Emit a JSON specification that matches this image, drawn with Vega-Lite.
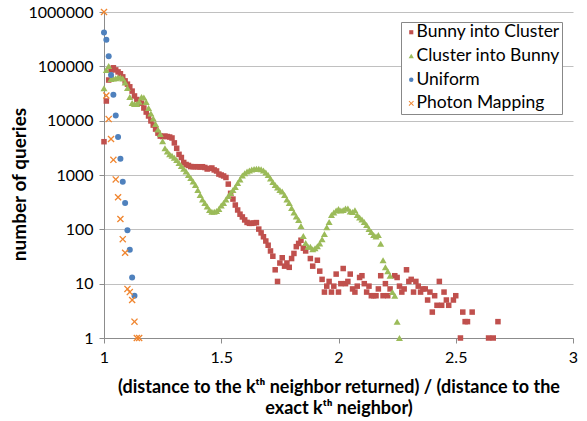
{
  "$schema": "https://vega.github.io/schema/vega-lite/v6.json",
  "width": 469,
  "height": 326,
  "autosize": "none",
  "padding": {"left": 104, "top": 12, "right": 14, "bottom": 83},
  "background": "white",
  "config": {"view": {"stroke": null}, "font": "Lato"},
  "data": {"values": [
    {"s":"Bunny into Cluster","x":1.00,"y":4100},{"s":"Bunny into Cluster","x":1.01,"y":23000},{"s":"Bunny into Cluster","x":1.02,"y":56000},{"s":"Bunny into Cluster","x":1.03,"y":86000},{"s":"Bunny into Cluster","x":1.04,"y":94000},{"s":"Bunny into Cluster","x":1.05,"y":86000},{"s":"Bunny into Cluster","x":1.06,"y":79000},{"s":"Bunny into Cluster","x":1.07,"y":73000},{"s":"Bunny into Cluster","x":1.08,"y":64000},{"s":"Bunny into Cluster","x":1.09,"y":54000},
    {"s":"Bunny into Cluster","x":1.10,"y":47000},{"s":"Bunny into Cluster","x":1.11,"y":42000},{"s":"Bunny into Cluster","x":1.12,"y":35000},{"s":"Bunny into Cluster","x":1.13,"y":28500},{"s":"Bunny into Cluster","x":1.14,"y":24500},{"s":"Bunny into Cluster","x":1.15,"y":22500},{"s":"Bunny into Cluster","x":1.16,"y":21000},{"s":"Bunny into Cluster","x":1.17,"y":17100},{"s":"Bunny into Cluster","x":1.18,"y":14400},{"s":"Bunny into Cluster","x":1.19,"y":12200},
    {"s":"Bunny into Cluster","x":1.20,"y":9900},{"s":"Bunny into Cluster","x":1.21,"y":8300},{"s":"Bunny into Cluster","x":1.22,"y":7000},{"s":"Bunny into Cluster","x":1.23,"y":5900},{"s":"Bunny into Cluster","x":1.24,"y":5200},{"s":"Bunny into Cluster","x":1.25,"y":5100},{"s":"Bunny into Cluster","x":1.26,"y":5200},{"s":"Bunny into Cluster","x":1.27,"y":5100},{"s":"Bunny into Cluster","x":1.28,"y":5000},{"s":"Bunny into Cluster","x":1.29,"y":4800},
    {"s":"Bunny into Cluster","x":1.30,"y":3900},{"s":"Bunny into Cluster","x":1.31,"y":3100},{"s":"Bunny into Cluster","x":1.32,"y":2400},{"s":"Bunny into Cluster","x":1.33,"y":2100},{"s":"Bunny into Cluster","x":1.34,"y":1700},{"s":"Bunny into Cluster","x":1.35,"y":1560},{"s":"Bunny into Cluster","x":1.36,"y":1500},{"s":"Bunny into Cluster","x":1.37,"y":1430},{"s":"Bunny into Cluster","x":1.38,"y":1420},{"s":"Bunny into Cluster","x":1.39,"y":1420},
    {"s":"Bunny into Cluster","x":1.40,"y":1420},{"s":"Bunny into Cluster","x":1.41,"y":1400},{"s":"Bunny into Cluster","x":1.42,"y":1420},{"s":"Bunny into Cluster","x":1.43,"y":1375},{"s":"Bunny into Cluster","x":1.44,"y":1290},{"s":"Bunny into Cluster","x":1.45,"y":1320},{"s":"Bunny into Cluster","x":1.46,"y":1345},{"s":"Bunny into Cluster","x":1.47,"y":1240},{"s":"Bunny into Cluster","x":1.48,"y":1185},{"s":"Bunny into Cluster","x":1.49,"y":1040},
    {"s":"Bunny into Cluster","x":1.50,"y":1000},{"s":"Bunny into Cluster","x":1.51,"y":960},{"s":"Bunny into Cluster","x":1.52,"y":900},{"s":"Bunny into Cluster","x":1.53,"y":680},{"s":"Bunny into Cluster","x":1.54,"y":460},{"s":"Bunny into Cluster","x":1.55,"y":360},{"s":"Bunny into Cluster","x":1.56,"y":280},{"s":"Bunny into Cluster","x":1.57,"y":227},{"s":"Bunny into Cluster","x":1.58,"y":190},{"s":"Bunny into Cluster","x":1.59,"y":169},
    {"s":"Bunny into Cluster","x":1.60,"y":149},{"s":"Bunny into Cluster","x":1.61,"y":134},{"s":"Bunny into Cluster","x":1.62,"y":129},{"s":"Bunny into Cluster","x":1.63,"y":129},{"s":"Bunny into Cluster","x":1.64,"y":131},{"s":"Bunny into Cluster","x":1.65,"y":133},{"s":"Bunny into Cluster","x":1.66,"y":101},{"s":"Bunny into Cluster","x":1.67,"y":86},{"s":"Bunny into Cluster","x":1.68,"y":73},{"s":"Bunny into Cluster","x":1.69,"y":61},
    {"s":"Bunny into Cluster","x":1.70,"y":51},{"s":"Bunny into Cluster","x":1.71,"y":40},{"s":"Bunny into Cluster","x":1.72,"y":32},{"s":"Bunny into Cluster","x":1.73,"y":18},{"s":"Bunny into Cluster","x":1.74,"y":11},{"s":"Bunny into Cluster","x":1.75,"y":24},{"s":"Bunny into Cluster","x":1.76,"y":30},{"s":"Bunny into Cluster","x":1.77,"y":21},{"s":"Bunny into Cluster","x":1.78,"y":24},{"s":"Bunny into Cluster","x":1.79,"y":20},
    {"s":"Bunny into Cluster","x":1.80,"y":29},{"s":"Bunny into Cluster","x":1.81,"y":36},{"s":"Bunny into Cluster","x":1.82,"y":48},{"s":"Bunny into Cluster","x":1.83,"y":55},{"s":"Bunny into Cluster","x":1.84,"y":63},{"s":"Bunny into Cluster","x":1.85,"y":45},{"s":"Bunny into Cluster","x":1.86,"y":40},{"s":"Bunny into Cluster","x":1.88,"y":29},{"s":"Bunny into Cluster","x":1.89,"y":21},
    {"s":"Bunny into Cluster","x":1.91,"y":27},{"s":"Bunny into Cluster","x":1.92,"y":17},{"s":"Bunny into Cluster","x":1.93,"y":12},{"s":"Bunny into Cluster","x":1.94,"y":7},{"s":"Bunny into Cluster","x":1.95,"y":9},{"s":"Bunny into Cluster","x":1.96,"y":11},{"s":"Bunny into Cluster","x":1.97,"y":7},{"s":"Bunny into Cluster","x":1.98,"y":9},{"s":"Bunny into Cluster","x":1.99,"y":15},
    {"s":"Bunny into Cluster","x":2.00,"y":7},{"s":"Bunny into Cluster","x":2.01,"y":10},{"s":"Bunny into Cluster","x":2.02,"y":19},{"s":"Bunny into Cluster","x":2.03,"y":10},{"s":"Bunny into Cluster","x":2.04,"y":11},{"s":"Bunny into Cluster","x":2.05,"y":15},{"s":"Bunny into Cluster","x":2.06,"y":8},{"s":"Bunny into Cluster","x":2.07,"y":7},{"s":"Bunny into Cluster","x":2.08,"y":9},{"s":"Bunny into Cluster","x":2.09,"y":13},
    {"s":"Bunny into Cluster","x":2.10,"y":14},{"s":"Bunny into Cluster","x":2.11,"y":10},{"s":"Bunny into Cluster","x":2.12,"y":7},{"s":"Bunny into Cluster","x":2.13,"y":9},{"s":"Bunny into Cluster","x":2.14,"y":6},{"s":"Bunny into Cluster","x":2.15,"y":6},{"s":"Bunny into Cluster","x":2.16,"y":6},{"s":"Bunny into Cluster","x":2.17,"y":8},{"s":"Bunny into Cluster","x":2.18,"y":14},{"s":"Bunny into Cluster","x":2.19,"y":6},
    {"s":"Bunny into Cluster","x":2.20,"y":10},{"s":"Bunny into Cluster","x":2.21,"y":6},{"s":"Bunny into Cluster","x":2.22,"y":8},{"s":"Bunny into Cluster","x":2.24,"y":14},{"s":"Bunny into Cluster","x":2.25,"y":13},{"s":"Bunny into Cluster","x":2.26,"y":9},{"s":"Bunny into Cluster","x":2.27,"y":7},{"s":"Bunny into Cluster","x":2.28,"y":8},{"s":"Bunny into Cluster","x":2.29,"y":18},
    {"s":"Bunny into Cluster","x":2.30,"y":11},{"s":"Bunny into Cluster","x":2.31,"y":12},{"s":"Bunny into Cluster","x":2.32,"y":7},{"s":"Bunny into Cluster","x":2.33,"y":11},{"s":"Bunny into Cluster","x":2.34,"y":9},{"s":"Bunny into Cluster","x":2.35,"y":7},{"s":"Bunny into Cluster","x":2.36,"y":8},{"s":"Bunny into Cluster","x":2.37,"y":8},{"s":"Bunny into Cluster","x":2.38,"y":5},{"s":"Bunny into Cluster","x":2.39,"y":7},
    {"s":"Bunny into Cluster","x":2.40,"y":3},{"s":"Bunny into Cluster","x":2.41,"y":6},{"s":"Bunny into Cluster","x":2.42,"y":4},{"s":"Bunny into Cluster","x":2.43,"y":11},{"s":"Bunny into Cluster","x":2.44,"y":4},{"s":"Bunny into Cluster","x":2.45,"y":7},{"s":"Bunny into Cluster","x":2.46,"y":5},{"s":"Bunny into Cluster","x":2.47,"y":4},{"s":"Bunny into Cluster","x":2.49,"y":5},
    {"s":"Bunny into Cluster","x":2.50,"y":6},{"s":"Bunny into Cluster","x":2.52,"y":1},{"s":"Bunny into Cluster","x":2.53,"y":3},{"s":"Bunny into Cluster","x":2.54,"y":2},{"s":"Bunny into Cluster","x":2.55,"y":2},{"s":"Bunny into Cluster","x":2.57,"y":3},{"s":"Bunny into Cluster","x":2.64,"y":1},{"s":"Bunny into Cluster","x":2.66,"y":1},{"s":"Bunny into Cluster","x":2.68,"y":2},

    {"s":"Cluster into Bunny","x":1.00,"y":39500},{"s":"Cluster into Bunny","x":1.01,"y":86000},{"s":"Cluster into Bunny","x":1.02,"y":101000},{"s":"Cluster into Bunny","x":1.03,"y":58500},{"s":"Cluster into Bunny","x":1.04,"y":59700},{"s":"Cluster into Bunny","x":1.05,"y":60300},{"s":"Cluster into Bunny","x":1.06,"y":62300},{"s":"Cluster into Bunny","x":1.07,"y":62300},{"s":"Cluster into Bunny","x":1.08,"y":59700},{"s":"Cluster into Bunny","x":1.09,"y":50400},
    {"s":"Cluster into Bunny","x":1.10,"y":40000},{"s":"Cluster into Bunny","x":1.11,"y":27300},{"s":"Cluster into Bunny","x":1.12,"y":21200},{"s":"Cluster into Bunny","x":1.13,"y":20300},{"s":"Cluster into Bunny","x":1.14,"y":20300},{"s":"Cluster into Bunny","x":1.15,"y":22400},{"s":"Cluster into Bunny","x":1.16,"y":27300},{"s":"Cluster into Bunny","x":1.17,"y":26700},{"s":"Cluster into Bunny","x":1.18,"y":22100},{"s":"Cluster into Bunny","x":1.19,"y":17100},
    {"s":"Cluster into Bunny","x":1.20,"y":13600},{"s":"Cluster into Bunny","x":1.21,"y":11000},{"s":"Cluster into Bunny","x":1.22,"y":8700},{"s":"Cluster into Bunny","x":1.23,"y":6900},{"s":"Cluster into Bunny","x":1.24,"y":5700},{"s":"Cluster into Bunny","x":1.25,"y":4200},{"s":"Cluster into Bunny","x":1.26,"y":3100},{"s":"Cluster into Bunny","x":1.27,"y":2700},{"s":"Cluster into Bunny","x":1.28,"y":2400},{"s":"Cluster into Bunny","x":1.29,"y":2260},
    {"s":"Cluster into Bunny","x":1.30,"y":2070},{"s":"Cluster into Bunny","x":1.31,"y":1890},{"s":"Cluster into Bunny","x":1.32,"y":1660},{"s":"Cluster into Bunny","x":1.33,"y":1465},{"s":"Cluster into Bunny","x":1.34,"y":1305},{"s":"Cluster into Bunny","x":1.35,"y":1160},{"s":"Cluster into Bunny","x":1.36,"y":1000},{"s":"Cluster into Bunny","x":1.37,"y":880},{"s":"Cluster into Bunny","x":1.38,"y":760},{"s":"Cluster into Bunny","x":1.39,"y":655},
    {"s":"Cluster into Bunny","x":1.40,"y":530},{"s":"Cluster into Bunny","x":1.41,"y":429},{"s":"Cluster into Bunny","x":1.42,"y":354},{"s":"Cluster into Bunny","x":1.43,"y":305},{"s":"Cluster into Bunny","x":1.44,"y":263},{"s":"Cluster into Bunny","x":1.45,"y":227},{"s":"Cluster into Bunny","x":1.46,"y":211},{"s":"Cluster into Bunny","x":1.47,"y":211},{"s":"Cluster into Bunny","x":1.48,"y":218},{"s":"Cluster into Bunny","x":1.49,"y":237},
    {"s":"Cluster into Bunny","x":1.50,"y":275},{"s":"Cluster into Bunny","x":1.51,"y":305},{"s":"Cluster into Bunny","x":1.52,"y":354},{"s":"Cluster into Bunny","x":1.53,"y":411},{"s":"Cluster into Bunny","x":1.54,"y":467},{"s":"Cluster into Bunny","x":1.55,"y":530},{"s":"Cluster into Bunny","x":1.56,"y":601},{"s":"Cluster into Bunny","x":1.57,"y":713},{"s":"Cluster into Bunny","x":1.58,"y":827},{"s":"Cluster into Bunny","x":1.59,"y":980},
    {"s":"Cluster into Bunny","x":1.60,"y":1075},{"s":"Cluster into Bunny","x":1.61,"y":1160},{"s":"Cluster into Bunny","x":1.62,"y":1210},{"s":"Cluster into Bunny","x":1.63,"y":1263},{"s":"Cluster into Bunny","x":1.64,"y":1290},{"s":"Cluster into Bunny","x":1.65,"y":1305},{"s":"Cluster into Bunny","x":1.66,"y":1305},{"s":"Cluster into Bunny","x":1.67,"y":1270},{"s":"Cluster into Bunny","x":1.68,"y":1210},{"s":"Cluster into Bunny","x":1.69,"y":1112},
    {"s":"Cluster into Bunny","x":1.70,"y":1000},{"s":"Cluster into Bunny","x":1.71,"y":863},{"s":"Cluster into Bunny","x":1.72,"y":743},{"s":"Cluster into Bunny","x":1.73,"y":655},{"s":"Cluster into Bunny","x":1.74,"y":589},{"s":"Cluster into Bunny","x":1.75,"y":530},{"s":"Cluster into Bunny","x":1.76,"y":497},{"s":"Cluster into Bunny","x":1.77,"y":429},{"s":"Cluster into Bunny","x":1.78,"y":354},{"s":"Cluster into Bunny","x":1.79,"y":305},
    {"s":"Cluster into Bunny","x":1.80,"y":247},{"s":"Cluster into Bunny","x":1.81,"y":204},{"s":"Cluster into Bunny","x":1.82,"y":172},{"s":"Cluster into Bunny","x":1.83,"y":149},{"s":"Cluster into Bunny","x":1.84,"y":115},{"s":"Cluster into Bunny","x":1.85,"y":75},{"s":"Cluster into Bunny","x":1.86,"y":56},{"s":"Cluster into Bunny","x":1.87,"y":48},{"s":"Cluster into Bunny","x":1.88,"y":48},{"s":"Cluster into Bunny","x":1.89,"y":43},
    {"s":"Cluster into Bunny","x":1.90,"y":45},{"s":"Cluster into Bunny","x":1.91,"y":49},{"s":"Cluster into Bunny","x":1.92,"y":55},{"s":"Cluster into Bunny","x":1.93,"y":66},{"s":"Cluster into Bunny","x":1.94,"y":82},{"s":"Cluster into Bunny","x":1.95,"y":109},{"s":"Cluster into Bunny","x":1.96,"y":136},{"s":"Cluster into Bunny","x":1.97,"y":184},{"s":"Cluster into Bunny","x":1.98,"y":204},{"s":"Cluster into Bunny","x":1.99,"y":222},
    {"s":"Cluster into Bunny","x":2.00,"y":237},{"s":"Cluster into Bunny","x":2.01,"y":222},{"s":"Cluster into Bunny","x":2.02,"y":227},{"s":"Cluster into Bunny","x":2.03,"y":242},{"s":"Cluster into Bunny","x":2.04,"y":242},{"s":"Cluster into Bunny","x":2.05,"y":213},{"s":"Cluster into Bunny","x":2.06,"y":208},{"s":"Cluster into Bunny","x":2.07,"y":224},{"s":"Cluster into Bunny","x":2.08,"y":184},{"s":"Cluster into Bunny","x":2.09,"y":165},
    {"s":"Cluster into Bunny","x":2.10,"y":152},{"s":"Cluster into Bunny","x":2.11,"y":136},{"s":"Cluster into Bunny","x":2.12,"y":120},{"s":"Cluster into Bunny","x":2.13,"y":101},{"s":"Cluster into Bunny","x":2.14,"y":89},{"s":"Cluster into Bunny","x":2.15,"y":79},{"s":"Cluster into Bunny","x":2.16,"y":74},{"s":"Cluster into Bunny","x":2.17,"y":79},{"s":"Cluster into Bunny","x":2.18,"y":54},{"s":"Cluster into Bunny","x":2.19,"y":27},
    {"s":"Cluster into Bunny","x":2.20,"y":20},{"s":"Cluster into Bunny","x":2.21,"y":17},{"s":"Cluster into Bunny","x":2.22,"y":14},{"s":"Cluster into Bunny","x":2.23,"y":7},{"s":"Cluster into Bunny","x":2.24,"y":6},{"s":"Cluster into Bunny","x":2.25,"y":2},{"s":"Cluster into Bunny","x":2.26,"y":1},

    {"s":"Uniform","x":1.00,"y":420000},{"s":"Uniform","x":1.01,"y":310000},{"s":"Uniform","x":1.02,"y":153000},{"s":"Uniform","x":1.03,"y":69000},{"s":"Uniform","x":1.04,"y":30000},{"s":"Uniform","x":1.05,"y":12500},{"s":"Uniform","x":1.06,"y":5000},{"s":"Uniform","x":1.07,"y":2000},{"s":"Uniform","x":1.08,"y":750},{"s":"Uniform","x":1.09,"y":305},{"s":"Uniform","x":1.10,"y":96},{"s":"Uniform","x":1.11,"y":42},{"s":"Uniform","x":1.12,"y":13},{"s":"Uniform","x":1.13,"y":6},

    {"s":"Photon Mapping","x":1.00,"y":1000000},{"s":"Photon Mapping","x":1.01,"y":29000},{"s":"Photon Mapping","x":1.02,"y":10700},{"s":"Photon Mapping","x":1.03,"y":4600},{"s":"Photon Mapping","x":1.04,"y":1900},{"s":"Photon Mapping","x":1.05,"y":830},{"s":"Photon Mapping","x":1.06,"y":390},{"s":"Photon Mapping","x":1.07,"y":155},{"s":"Photon Mapping","x":1.08,"y":66},{"s":"Photon Mapping","x":1.09,"y":37},{"s":"Photon Mapping","x":1.10,"y":8},{"s":"Photon Mapping","x":1.11,"y":7},{"s":"Photon Mapping","x":1.12,"y":5},{"s":"Photon Mapping","x":1.13,"y":2},{"s":"Photon Mapping","x":1.14,"y":1},{"s":"Photon Mapping","x":1.15,"y":1}
  ]},
  "mark": {"type": "point", "filled": true, "opacity": 1, "size": 36, "strokeWidth": 0},
  "encoding": {
    "x": {
      "field": "x", "type": "quantitative",
      "scale": {"domain": [1, 3], "nice": false, "zero": false},
      "axis": {
        "values": [1, 1.5, 2, 2.5, 3], "format": "~g", "grid": false,
        "domainColor": "#8c8c8c", "tickColor": "#8c8c8c", "tickSize": 5,
        "labelFontSize": 16, "labelColor": "black", "labelPadding": 6, "labelFlush": false, "labelOverlap": false,
        "title": ["(distance to the kᵗʰ neighbor returned) / (distance to the", "exact kᵗʰ neighbor)"],
        "titleFontSize": 18, "titleFontWeight": "bold", "titleColor": "black",
        "titleX": 234.5, "titleY": 40, "titleBaseline": "top", "titleAlign": "center", "titleLineHeight": 21
      }
    },
    "y": {
      "field": "y", "type": "quantitative",
      "scale": {"type": "log", "domain": [1, 1000000], "nice": false},
      "axis": {
        "values": [1, 10, 100, 1000, 10000, 100000, 1000000], "format": "d",
        "grid": true, "gridColor": "#c0c0c0",
        "domainColor": "#8c8c8c", "tickColor": "#8c8c8c", "tickSize": 5,
        "labelFontSize": 16, "labelColor": "black", "labelPadding": 6,
        "title": "number of queries", "titleFontSize": 19, "titleFontWeight": "bold", "titleColor": "black",
        "titleX": -85, "titleY": 172, "titleAngle": -90, "titleBaseline": "middle", "titleAlign": "center"
      }
    },
    "color": {
      "field": "s", "type": "nominal",
      "scale": {"domain": ["Bunny into Cluster", "Cluster into Bunny", "Uniform", "Photon Mapping"], "range": ["#C0504D", "#9BBB59", "#4F81BD", "#F08630"]},
      "legend": {
        "orient": "none", "legendX": 297, "legendY": 10, "title": null,
        "labelFontSize": 17.5, "labelColor": "black", "symbolSize": 20, "rowPadding": 4.7,
        "padding": 1.5, "labelOffset": -3.5, "strokeColor": "#888888", "fillColor": "white"
      }
    },
    "shape": {
      "field": "s", "type": "nominal",
      "scale": {"domain": ["Bunny into Cluster", "Cluster into Bunny", "Uniform", "Photon Mapping"], "range": ["M-0.92,-0.92L0.92,-0.92L0.92,0.92L-0.92,0.92Z", "M0,-1L1.17,1L-1.17,1Z", "circle", "M-1.17,-0.86L-0.86,-1.17L0,-0.31L0.86,-1.17L1.17,-0.86L0.31,0L1.17,0.86L0.86,1.17L0,0.31L-0.86,1.17L-1.17,0.86L-0.31,0Z"]}
    }
  }
}
